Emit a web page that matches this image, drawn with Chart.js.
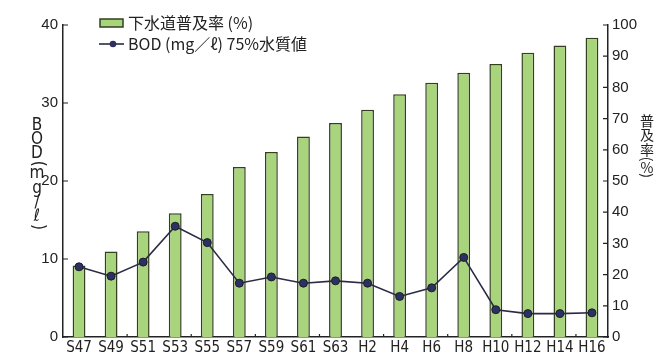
<!DOCTYPE html>
<html>
<head>
<meta charset="utf-8">
<script src="https://cdn.jsdelivr.net/npm/chart.js@4.4.1/dist/chart.umd.min.js"></script>
<style>
  html, body { margin: 0; padding: 0; background: #fff; }
  #wrap { width: 659px; height: 356px; }
</style>
</head>
<body>
<div id="wrap"><canvas id="c" width="659" height="356"></canvas></div>
<script>
// ---- data ----
const years = ["S47","S49","S51","S53","S55","S57","S59","S61","S63","H2","H4","H6","H8","H10","H12","H14","H16"];
const sewerRate = [22.9, 27.4, 33.9, 39.7, 45.8, 54.5, 59.3, 64.3, 68.6, 72.8, 77.8, 81.5, 84.7, 87.5, 91.1, 93.4, 95.9];
const bodValue  = [9.0, 7.8, 9.6, 14.2, 12.1, 6.9, 7.7, 6.9, 7.2, 6.9, 5.2, 6.3, 10.2, 3.5, 3.0, 3.0, 3.1];
const bodAxis  = { min: 0, max: 40, step: 10 };
const rateAxis = { min: 0, max: 100, step: 10 };
const legendLabels = ["下水道普及率 (%)", "BOD (mg／ℓ) 75%水質値"];

const INK = "#222";
const BAR_FILL = "#a8d57c";
const BAR_EDGE = "#33401f";
const LINE_COL = "#2a2a45";
const DOT_COL = "#2e3160";
const NUM_FONT = "'Liberation Sans', Arial, sans-serif";
const NARROW = "'Liberation Sans Narrow', 'DejaVu Sans Condensed', sans-serif";
const JP = "'Noto Sans CJK JP', sans-serif";

// draw a string top-to-bottom; characters in turnSet are turned sideways
function vText(ctx, str, cx, y, size, family, turnSet) {
  ctx.save();
  ctx.font = size + "px " + family;
  ctx.fillStyle = INK;
  ctx.textAlign = "center";
  ctx.textBaseline = "middle";
  for (const ch of str) {
    const w = ctx.measureText(ch).width;
    if (turnSet.includes(ch)) {
      ctx.save();
      ctx.translate(cx, y + w / 2);
      ctx.rotate(Math.PI / 2);
      ctx.fillText(ch, 0, 0);
      ctx.restore();
      y += w;
    } else {
      const adv = ch.charCodeAt(0) > 0x2e80 ? size * 1.04 : size * 0.84;
      ctx.fillText(ch, cx, y + adv / 2);
      y += adv;
    }
  }
  ctx.restore();
}

const decor = {
  id: "decor",
  afterDraw(chart) {
    const ctx = chart.ctx;
    const x = chart.scales.x, yl = chart.scales.yBod, yr = chart.scales.yRate;
    ctx.save();
    ctx.strokeStyle = INK;
    ctx.lineWidth = 1.2;
    ctx.beginPath();
    // inside tick marks on both value axes
    yl.ticks.forEach(t => {
      const py = yl.getPixelForValue(t.value);
      ctx.moveTo(yl.right, py); ctx.lineTo(yl.right + 5, py);
    });
    yr.ticks.forEach(t => {
      const py = yr.getPixelForValue(t.value);
      ctx.moveTo(yr.left - 5, py); ctx.lineTo(yr.left, py);
    });
    // small marks on the category axis, every second boundary
    for (let i = 2; i < years.length; i += 2) {
      const px = (x.getPixelForValue(i - 1) + x.getPixelForValue(i)) / 2;
      ctx.moveTo(px, x.top); ctx.lineTo(px, x.top - 3);
    }
    ctx.stroke();

    // legend
    ctx.fillStyle = BAR_FILL;
    ctx.strokeStyle = BAR_EDGE;
    ctx.lineWidth = 1.5;
    ctx.fillRect(100, 19, 23, 8);
    ctx.strokeRect(100, 19, 23, 8);
    ctx.strokeStyle = LINE_COL;
    ctx.lineWidth = 1.6;
    ctx.beginPath(); ctx.moveTo(99, 44); ctx.lineTo(124, 44); ctx.stroke();
    ctx.fillStyle = DOT_COL;
    ctx.beginPath(); ctx.arc(113, 44, 3.3, 0, Math.PI * 2); ctx.fill();
    ctx.fillStyle = INK;
    ctx.font = "16px " + JP;
    ctx.textBaseline = "middle";
    ctx.textAlign = "left";
    ctx.fillText(legendLabels[0], 128, 23);
    ctx.fillText(legendLabels[1], 128, 44);
    ctx.restore();

    // axis titles
    vText(ctx, "BOD(mg/ℓ)", 37, 118, 17, NARROW, "()");
    vText(ctx, "普及率(%)", 647, 113, 14, JP, "()");
  }
};

new Chart(document.getElementById("c"), {
  data: {
    labels: years,
    datasets: [
      {
        type: "line",
        label: legendLabels[1],
        data: bodValue,
        yAxisID: "yBod",
        borderColor: LINE_COL,
        borderWidth: 1.6,
        pointRadius: 4,
        pointBackgroundColor: DOT_COL,
        pointBorderColor: "#1c1c30",
        pointBorderWidth: 1,
        tension: 0,
        order: 1
      },
      {
        type: "bar",
        label: legendLabels[0],
        data: sewerRate,
        yAxisID: "yRate",
        backgroundColor: BAR_FILL,
        borderColor: BAR_EDGE,
        borderWidth: 1.5,
        barPercentage: 0.4,
        categoryPercentage: 1,
        order: 2
      }
    ]
  },
  options: {
    responsive: false,
    animation: false,
    layout: { padding: { top: 25, left: 0, right: 0, bottom: 0 } },
    plugins: { legend: { display: false }, tooltip: { enabled: false } },
    scales: {
      x: {
        offset: true,
        grid: { display: false, drawTicks: false },
        border: { display: true, color: INK, width: 1.5 },
        ticks: {
          color: INK, autoSkip: false, maxRotation: 0, padding: 2,
          font: { family: NARROW, size: 15 }
        },
        afterFit(s) { s.height = 19; }
      },
      yBod: {
        position: "left",
        min: bodAxis.min, max: bodAxis.max,
        grid: { display: false, drawTicks: false },
        border: { display: true, color: INK, width: 1.5 },
        ticks: {
          stepSize: bodAxis.step, color: INK, padding: 5,
          font: { family: NUM_FONT, size: 15 }
        },
        afterFit(s) { s.width = 63; }
      },
      yRate: {
        position: "right",
        min: rateAxis.min, max: rateAxis.max,
        grid: { display: false, drawTicks: false },
        border: { display: true, color: INK, width: 1.5 },
        ticks: {
          stepSize: rateAxis.step, color: INK, padding: 4,
          font: { family: NUM_FONT, size: 15 }
        },
        afterFit(s) { s.width = 51; }
      }
    }
  },
  plugins: [decor]
});
</script>
</body>
</html>
